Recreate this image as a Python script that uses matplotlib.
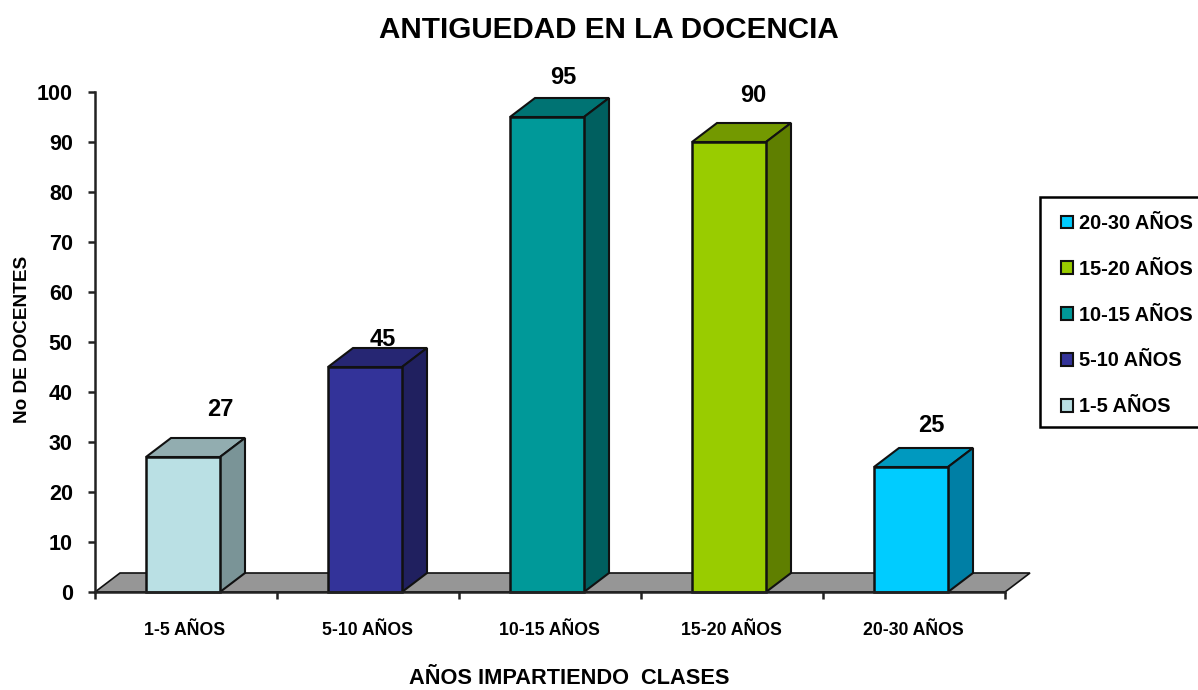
import matplotlib
matplotlib.use("Agg")
import matplotlib.pyplot as plt
from matplotlib.patches import Polygon, Patch, Rectangle

plt.rcParams["font.family"] = ["Liberation Sans", "DejaVu Sans"]
plt.rcParams["font.weight"] = "bold"

# Data
categories = ["1-5 AÑOS", "5-10 AÑOS", "10-15 AÑOS", "15-20 AÑOS", "20-30 AÑOS"]
values = [27, 45, 95, 90, 25]
front_colors = ["#BAE0E4", "#333399", "#009999", "#99CC00", "#00CCFF"]
top_colors = ["#92ADB0", "#262673", "#007373", "#739900", "#0099BF"]
side_colors = ["#7A9497", "#20205F", "#005F5F", "#5F7F00", "#007FA5"]

# label offsets from bar top, in pixels
label_dx = [37, 18, 16, 24, 20]
label_dy = [47, 28, 39, 46, 41]

W, H = 1198, 690
fig = plt.figure(figsize=(W / 100, H / 100), dpi=100)
ax = fig.add_axes([95 / W, (H - 592) / H, 910 / W, 500 / H])
ax.set_xlim(0, 5)
ax.set_ylim(0, 100)

# 3D depth in data units
dx = 25 / 182
dy = 19 / 5
bar_w = 74 / 182
edge = "#111111"

# Floor
ax.add_patch(Polygon([(0, 0), (5, 0), (5 + dx, dy), (dx, dy)], closed=True,
                     facecolor="#969696", edgecolor=edge, linewidth=1.2,
                     clip_on=False, zorder=2))

# Bars
for i, v in enumerate(values):
    left = i + 0.5 - 3 / 182 - bar_w / 2
    right = left + bar_w
    ax.bar(left, v, width=bar_w, align="edge", color=front_colors[i],
           edgecolor=edge, linewidth=1.8, zorder=4, clip_on=False)
    ax.add_patch(Polygon([(left, v), (right, v), (right + dx, v + dy), (left + dx, v + dy)],
                         closed=True, facecolor=top_colors[i], edgecolor=edge,
                         linewidth=1.5, clip_on=False, zorder=3))
    ax.add_patch(Polygon([(right, 0), (right, v), (right + dx, v + dy), (right + dx, dy)],
                         closed=True, facecolor=side_colors[i], edgecolor=edge,
                         linewidth=1.5, clip_on=False, zorder=3))
    ax.annotate(str(v), (left + bar_w / 2, v), xytext=(label_dx[i] * 0.72, label_dy[i] * 0.72),
                textcoords="offset points", ha="center", va="center",
                fontsize=17, fontweight="bold", color="black", annotation_clip=False, zorder=6)

# Axes
for s in ["top", "right"]:
    ax.spines[s].set_visible(False)
for s in ["left", "bottom"]:
    ax.spines[s].set_linewidth(1.8)
    ax.spines[s].set_color("#222222")
    ax.spines[s].set_zorder(5)

ax.set_yticks(range(0, 101, 10))
ax.tick_params(axis="y", length=5, width=1.8, labelsize=15.5, pad=11, color="#222222")
ax.set_xticks(range(0, 6))
ax.set_xticklabels([])
ax.tick_params(axis="x", length=5, width=1.8, color="#222222")
for i, c in enumerate(categories):
    ax.text(i + 0.5 - 1 / 182, -7.7, c, ha="center", va="center", fontsize=12.7, fontweight="bold")

fig.text(609 / W, 1 - 30 / H, "ANTIGUEDAD EN LA DOCENCIA", ha="center", va="center",
         fontsize=21.3, fontweight="bold")
fig.text(569 / W, 1 - 678 / H, "AÑOS IMPARTIENDO  CLASES", ha="center", va="center",
         fontsize=15.7, fontweight="bold")
fig.text(23 / W, 1 - 339 / H, "No DE DOCENTES", ha="center", va="center", rotation=90,
         fontsize=13.7, fontweight="bold")

# Legend frame and entries, reversed order
fig.add_artist(Rectangle((1040 / W, 1 - 427 / H), 170 / W, 230 / H, transform=fig.transFigure,
                         facecolor="white", edgecolor="black", linewidth=1.8))
handles = [Patch(facecolor=front_colors[i], edgecolor=edge, linewidth=1.5, label=categories[i])
           for i in range(4, -1, -1)]
leg = fig.legend(handles=handles, loc="upper left", bbox_to_anchor=(1044 / W, 1 - 197 / H),
                 bbox_transform=fig.transFigure, borderaxespad=0, frameon=False,
                 handlelength=0.6, handleheight=0.6, handletextpad=0.3,
                 labelspacing=1.34, borderpad=0.85, prop={"size": 14.4, "weight": "bold"})

fig.savefig("out.png", dpi=100)
